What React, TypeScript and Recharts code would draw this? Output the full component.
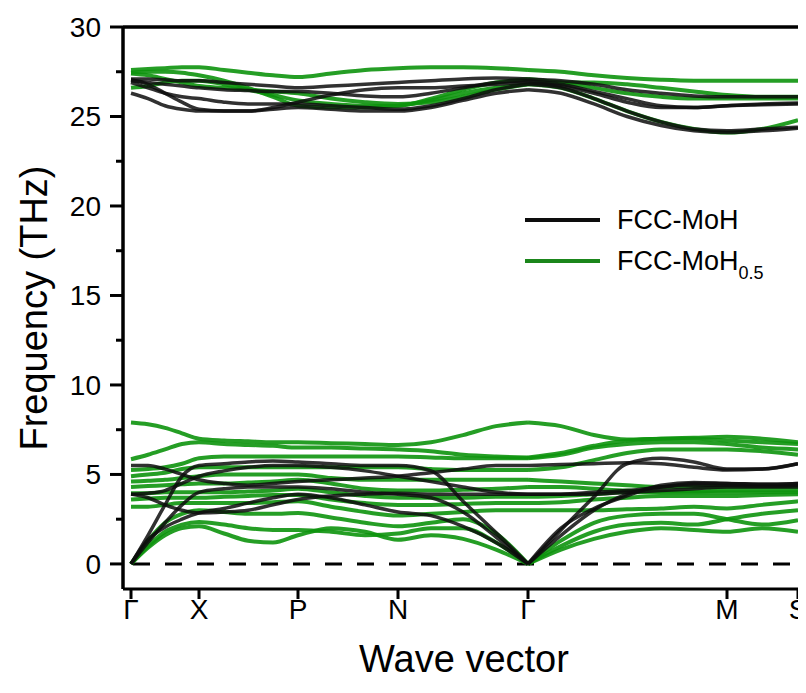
import { Legend, Line, LineChart, ReferenceLine, XAxis, YAxis } from "recharts";

// wave-vector sample positions along Γ-X-P-N-Γ-M-S
const K = [0, 17, 34, 51, 68, 93, 117, 142, 167, 200, 234, 267, 300, 332, 365, 397, 430, 463, 496, 530, 563, 596, 631, 667];
const K_TICKS = [0, 68, 167, 267, 397, 596, 667];
const K_LABELS = ["Γ", "X", "P", "N", "Γ", "M", "S"];
const FREQ_TICKS = [0, 2.5, 5, 7.5, 10, 12.5, 15, 17.5, 20, 22.5, 25, 27.5, 30];
// index of the second Γ point, where the bands are split
const GAMMA2 = 15;

// FCC-MoH (black)
const mohAc1 = [0, 1.6, 3.3, 4.9, 5.5, 5.6, 5.7, 5.75, 5.7, 5.6, 5.5, 5.5, 5.2, 3.5, 1.75, 0, 1.9, 3.75, 5.6, 5.9, 5.7, 5.3, 5.3, 5.6];
const mohAc2 = [0, 1.35, 2.05, 2.5, 2.85, 3.1, 3.4, 3.7, 3.9, 3.7, 3.3, 2.9, 2.7, 2.1, 1.2, 0, 2.0, 3.1, 3.8, 4.4, 4.55, 4.5, 4.45, 4.5];
const mohAc3 = [0, 1.2, 2.3, 3.3, 4.0, 4.2, 4.3, 4.3, 4.3, 4.2, 4.0, 3.9, 3.7, 2.9, 1.5, 0, 1.6, 3.0, 3.9, 4.3, 4.4, 4.4, 4.35, 4.4];
const mohOp1 = [5.5, 5.5, 5.3, 5.0, 4.7, 4.5, 4.4, 4.5, 4.6, 4.7, 4.8, 4.9, 5.1, 5.3, 5.5, 5.5, 5.55, 5.6, 5.65, 5.6, 5.4, 5.25, 5.3, 5.6];
const mohOp2 = [3.9, 3.95, 4.1, 4.5, 4.9, 5.2, 5.4, 5.5, 5.5, 5.4, 5.2, 4.9, 4.6, 4.3, 4.0, 3.9, 3.9, 4.0, 4.1, 4.3, 4.5, 4.5, 4.45, 4.5];
const mohOp3 = [3.9, 3.7, 3.3, 3.0, 2.85, 2.9, 3.0, 3.3, 3.6, 3.8, 3.9, 3.95, 3.9, 3.9, 3.9, 3.9, 3.9, 3.9, 4.0, 4.1, 4.2, 4.3, 4.3, 4.3];
const mohHi1 = [27.1, 27.1, 27.05, 27.0, 27.0, 26.9, 26.8, 26.7, 26.6, 26.7, 26.8, 26.9, 27.0, 27.1, 27.15, 27.1, 27.0, 26.8, 26.5, 26.3, 26.15, 26.1, 26.1, 26.1];
const mohHi2 = [27.0, 26.9, 26.8, 26.7, 26.6, 26.5, 26.45, 26.4, 26.4, 26.3, 26.15, 26.1, 26.3, 26.6, 26.9, 27.0, 26.8, 26.4, 26.0, 25.6, 25.5, 25.6, 25.7, 25.75];
const mohHi3 = [26.9, 26.6, 26.3, 26.1, 26.0, 25.8, 25.7, 25.7, 25.7, 25.6, 25.5, 25.4, 25.6, 26.0, 26.5, 26.8, 26.6, 26.0, 25.3, 24.7, 24.3, 24.2, 24.3, 24.4];
const mohHi4 = [26.3, 26.0, 25.6, 25.4, 25.3, 25.3, 25.3, 25.4, 25.5, 25.4, 25.3, 25.3, 25.5, 25.9, 26.3, 26.5, 26.3, 25.7, 25.0, 24.5, 24.2, 24.1, 24.2, 24.35];
const mohHi5 = [27.05, 26.8, 26.3, 25.8, 25.4, 25.3, 25.3, 25.5, 25.8, 26.2, 26.5, 26.6, 26.6, 26.7, 26.8, 26.9, 26.7, 26.3, 25.8, 25.5, 25.5, 25.6, 25.65, 25.7];

// FCC-MoH0.5 (green)
const halfAc1 = [0, 0.9, 1.6, 2.0, 2.1, 1.7, 1.3, 1.2, 1.6, 2.0, 1.8, 1.35, 1.6, 1.4, 0.8, 0, 0.8, 1.4, 1.8, 2.0, 1.9, 1.8, 2.0, 1.8];
const halfAc2 = [0, 1.0, 1.8, 2.2, 2.35, 2.2, 2.0, 1.9, 1.9, 1.8, 1.6, 1.7, 2.0, 2.0, 1.2, 0, 1.0, 1.8, 2.2, 2.3, 2.2, 2.5, 2.8, 3.0];
const halfAc3 = [0, 1.3, 2.3, 2.8, 3.0, 2.9, 2.8, 2.8, 2.85, 2.6, 2.3, 2.1, 2.3, 2.5, 1.7, 0, 1.3, 2.3, 2.7, 2.8, 2.8, 2.5, 2.2, 2.45];
const halfOp1 = [3.2, 3.2, 3.3, 3.4, 3.4, 3.4, 3.4, 3.45, 3.5, 3.2, 2.9, 2.7, 2.8, 2.9, 3.0, 3.0, 3.0, 3.0, 3.05, 3.1, 3.2, 3.1, 3.3, 3.5];
const halfOp2 = [3.6, 3.65, 3.7, 3.7, 3.7, 3.75, 3.8, 3.85, 3.85, 3.6, 3.4, 3.3, 3.3, 3.35, 3.4, 3.4, 3.45, 3.6, 3.7, 3.8, 3.8, 3.8, 3.85, 3.9];
const halfOp3 = [3.95, 3.95, 4.0, 4.0, 4.0, 4.0, 4.05, 4.1, 4.2, 4.0, 3.8, 3.7, 3.7, 3.7, 3.75, 3.75, 3.8, 3.9, 4.0, 4.0, 4.0, 4.0, 4.0, 4.0];
const halfOp4 = [4.3, 4.35, 4.4, 4.45, 4.5, 4.5, 4.55, 4.6, 4.7, 4.5, 4.2, 4.1, 4.1, 4.15, 4.2, 4.3, 4.3, 4.2, 4.1, 4.05, 4.05, 4.1, 4.1, 4.1];
const halfOp5 = [4.6, 4.65, 4.7, 4.8, 4.9, 5.0, 5.0, 5.0, 5.0, 4.8, 4.7, 4.7, 4.7, 4.7, 4.7, 4.7, 4.6, 4.5, 4.4, 4.3, 4.3, 4.3, 4.3, 4.3];
const halfOp6 = [4.9, 5.0, 5.1, 5.3, 5.4, 5.4, 5.4, 5.4, 5.4, 5.4, 5.4, 5.4, 5.3, 5.25, 5.25, 5.25, 5.4, 5.8, 6.2, 6.4, 6.4, 6.4, 6.3, 6.1];
const halfOp7 = [5.25, 5.3, 5.4, 5.6, 5.9, 6.0, 6.0, 6.0, 6.0, 6.0, 6.0, 6.0, 5.95, 5.9, 5.9, 5.9, 6.1, 6.5, 6.7, 6.8, 6.8, 6.7, 6.5, 6.4];
const halfOp8 = [5.85, 6.1, 6.4, 6.7, 6.8, 6.7, 6.65, 6.6, 6.5, 6.5, 6.45, 6.4, 6.3, 6.1, 6.0, 5.95, 6.2, 6.6, 6.9, 7.0, 7.0, 6.9, 6.8, 6.7];
const halfOp9 = [7.9, 7.8, 7.6, 7.3, 7.0, 6.9, 6.85, 6.8, 6.8, 6.75, 6.7, 6.65, 6.8, 7.2, 7.7, 7.9, 7.7, 7.2, 6.95, 7.0, 7.05, 7.1, 7.0, 6.8];
const halfHi1 = [27.6, 27.65, 27.7, 27.75, 27.75, 27.6, 27.45, 27.3, 27.2, 27.4, 27.6, 27.7, 27.75, 27.75, 27.7, 27.6, 27.5, 27.3, 27.15, 27.05, 27.0, 27.0, 27.0, 27.0];
const halfHi2 = [27.45, 27.5, 27.5, 27.45, 27.3, 27.0, 26.6, 26.1, 25.6, 25.5, 25.5, 25.6, 25.9, 26.3, 26.6, 26.8, 26.6, 26.0, 25.3, 24.7, 24.3, 24.1, 24.3, 24.8];
const halfHi3 = [26.6, 26.7, 26.9, 27.0, 27.0, 26.8, 26.5, 26.2, 25.9, 25.7, 25.6, 25.6, 26.0, 26.5, 26.9, 27.1, 26.9, 26.6, 26.3, 26.1, 26.0, 26.0, 26.0, 26.0];
const halfHi4 = [27.4, 27.3, 27.1, 26.9, 26.7, 26.6, 26.5, 26.4, 26.3, 26.0, 25.8, 25.7, 25.8, 26.1, 26.5, 26.8, 26.9, 26.9, 26.8, 26.6, 26.4, 26.2, 26.1, 26.1];

const MOH_BANDS = [mohAc1, mohAc2, mohAc3, mohOp1, mohOp2, mohOp3, mohHi1, mohHi2, mohHi3, mohHi4, mohHi5];
const HALF_BANDS = [halfAc1, halfAc2, halfAc3, halfOp1, halfOp2, halfOp3, halfOp4, halfOp5, halfOp6, halfOp7, halfOp8, halfOp9, halfHi1, halfHi2, halfHi3, halfHi4];

// split each band at the second Γ so the acoustic branches keep their kink there
const toSegments = (band: number[]) => {
  const pts = K.map((k, i) => ({ k, v: band[i] }));
  return [pts.slice(0, GAMMA2 + 1), pts.slice(GAMMA2)];
};

const FONT = "'Liberation Sans', Arial, Helvetica, sans-serif";
const AXIS_X = 115;
const BLACK = "#0d0d0d";
const GREEN = "#0d930d";

function FreqTick({ y, payload }: any) {
  const major = payload.value % 5 === 0;
  return (
    <g>
      <line x1={AXIS_X} x2={AXIS_X - (major ? 13 : 7)} y1={y} y2={y} stroke="#000" strokeWidth={3} />
      {major && (
        <text x={AXIS_X - 22} y={y} dy={10} textAnchor="end" fontSize={28} fontFamily={FONT} fill="#000">
          {payload.value}
        </text>
      )}
    </g>
  );
}

function LegendBox() {
  return (
    <svg width={280} height={80} style={{ display: "block" }}>
      <line x1={0} x2={75} y1={16} y2={16} stroke={BLACK} strokeWidth={4} />
      <text x={92} y={16} dy={9} fontSize={27} fontFamily={FONT} fill="#000">
        FCC-MoH
      </text>
      <line x1={0} x2={75} y1={57} y2={57} stroke="#1b861b" strokeWidth={4} />
      <text x={92} y={57} dy={9} fontSize={27} fontFamily={FONT} fill="#000">
        FCC-MoH
        <tspan fontSize={18} dy={9}>0.5</tspan>
      </text>
    </svg>
  );
}

export default function App() {
  return (
    <div style={{ width: 798, height: 677, overflow: "hidden", position: "relative" }}>
      <LineChart width={820} height={677} margin={{ top: 19, right: 0, bottom: 0, left: 0 }}>
        <XAxis
          dataKey="k"
          type="number"
          domain={[-8, 697]}
          ticks={K_TICKS}
          interval={0}
          allowDuplicatedCategory
          tickFormatter={(_v: number, i: number) => K_LABELS[i]}
          height={96}
          tickSize={10}
          tickMargin={0}
          axisLine={{ stroke: "#000", strokeWidth: 3 }}
          tickLine={{ stroke: "#000", strokeWidth: 3 }}
          tick={{ fontSize: 28, fill: "#000", fontFamily: FONT }}
          label={{
            content: () => (
              <text x={456} y={664} textAnchor="middle" fontSize={38} fontFamily={FONT} fill="#000">
                Wave vector
              </text>
            ),
          }}
        />
        <YAxis
          type="number"
          domain={[-1.4, 30]}
          allowDataOverflow
          ticks={FREQ_TICKS}
          interval={0}
          width={AXIS_X}
          axisLine={{ stroke: "#000", strokeWidth: 3.5 }}
          tickLine={false}
          tick={<FreqTick />}
          label={{
            content: () => (
              <text
                transform="translate(26, 300) rotate(-90)"
                textAnchor="middle"
                dominantBaseline="central"
                fontSize={38}
                fontFamily={FONT}
                fill="#000"
              >
                Frequency (THz)
              </text>
            ),
          }}
        />
        <ReferenceLine y={30} stroke="#000" strokeWidth={3.5} />
        <ReferenceLine
          segment={[{ x: 2, y: 0 }, { x: 697, y: 0 }]}
          stroke="#000"
          strokeWidth={3}
          strokeDasharray="17 15"
        />
        {HALF_BANDS.flatMap((band, i) =>
          toSegments(band).map((seg, j) => (
            <Line
              key={`half-${i}-${j}`}
              data={seg}
              dataKey="v"
              type="monotone"
              stroke={GREEN}
              strokeOpacity={0.9}
              strokeWidth={4}
              dot={false}
              activeDot={false}
              isAnimationActive={false}
              legendType="none"
            />
          ))
        )}
        {MOH_BANDS.flatMap((band, i) =>
          toSegments(band).map((seg, j) => (
            <Line
              key={`moh-${i}-${j}`}
              data={seg}
              dataKey="v"
              type="monotone"
              stroke={BLACK}
              strokeOpacity={0.85}
              strokeWidth={3.5}
              dot={false}
              activeDot={false}
              isAnimationActive={false}
              legendType="none"
            />
          ))
        )}
        <Legend
          layout="horizontal"
          verticalAlign="middle"
          align="center"
          wrapperStyle={{ left: 517, top: 196, width: 280, height: 80 }}
          content={() => <LegendBox />}
        />
      </LineChart>
    </div>
  );
}
